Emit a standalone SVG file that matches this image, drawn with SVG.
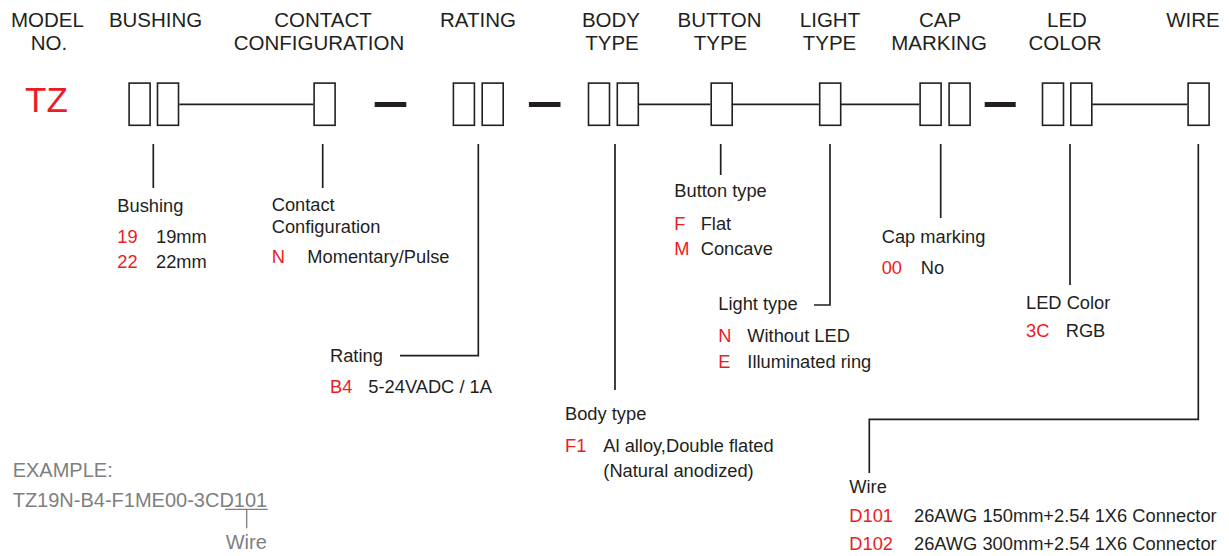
<svg xmlns="http://www.w3.org/2000/svg" width="1229" height="556" viewBox="0 0 1229 556">
<style>
text{font-family:"Liberation Sans",Arial,sans-serif;fill:#231f20}
.h{font-size:20.5px;text-anchor:middle}
.t{font-size:18.3px}
.r{fill:#ed1c24}
.g{fill:#7f7f7f;font-size:20px}
.box{fill:#fff;stroke:#231f20;stroke-width:1.6}
.ln{fill:none;stroke:#231f20;stroke-width:1.7}
.dash{fill:#231f20}
</style>
<rect width="1229" height="556" fill="#fff"/>
<g id="headers">
<text class="h" x="47.5" y="26.7">MODEL</text><text class="h" x="49" y="50">NO.</text>
<text class="h" x="155.6" y="26.7">BUSHING</text>
<text class="h" x="323" y="26.7">CONTACT</text><text class="h" x="319" y="50">CONFIGURATION</text>
<text class="h" x="478" y="26.7">RATING</text>
<text class="h" x="611" y="26.7">BODY</text><text class="h" x="612" y="50">TYPE</text>
<text class="h" x="719.5" y="26.7">BUTTON</text><text class="h" x="720.5" y="50">TYPE</text>
<text class="h" x="830" y="26.7">LIGHT</text><text class="h" x="829.5" y="50">TYPE</text>
<text class="h" x="940" y="26.7">CAP</text><text class="h" x="939" y="50">MARKING</text>
<text class="h" x="1067" y="26.7">LED</text><text class="h" x="1065" y="50">COLOR</text>
<text class="h" x="1193" y="26.7">WIRE</text>
</g>
<g id="model">
<text x="25" y="112" style="font-size:35px;fill:#ed1c24">TZ</text>
</g>
<g id="code-boxes">
<rect class="box" x="129.1" y="83.1" width="21" height="42.2"/>
<rect class="box" x="157.5" y="83.1" width="21" height="42.2"/>
<rect class="box" x="314.1" y="83.1" width="21" height="42.2"/>
<rect class="dash" x="374.7" y="102" width="31.6" height="5"/>
<rect class="box" x="453.4" y="83.1" width="21" height="42.2"/>
<rect class="box" x="482.2" y="83.1" width="21" height="42.2"/>
<rect class="dash" x="528.9" y="102" width="31.6" height="5"/>
<rect class="box" x="588.5" y="83.1" width="21" height="42.2"/>
<rect class="box" x="617.3" y="83.1" width="21" height="42.2"/>
<rect class="box" x="711.2" y="83.1" width="21" height="42.2"/>
<rect class="box" x="819.7" y="83.1" width="21" height="42.2"/>
<rect class="box" x="920.1" y="83.1" width="21" height="42.2"/>
<rect class="box" x="949.1" y="83.1" width="21" height="42.2"/>
<rect class="dash" x="984.7" y="102" width="31" height="5"/>
<rect class="box" x="1042.5" y="83.1" width="21" height="42.2"/>
<rect class="box" x="1070.8" y="83.1" width="21" height="42.2"/>
<rect class="box" x="1188.1" y="83.1" width="21" height="42.2"/>
</g>
<g id="connectors">
<path class="ln" d="M179.3 104.3H313.3M639 104.3H710.4M731.7 104.3H818.9M840.2 104.3H919.3M1092.3 104.3H1187.3"/>
<path class="ln" d="M153.3 144V188M322.7 144V188M478.3 144V355.7H400M615 144V390M720.7 144V175M830 144V305H814M940.7 144V218M1070 144V285M1198.3 144V419.3H869.3V473"/>
<path d="M225 509.3H267.7M246.7 509.3V528.3" fill="none" stroke="#7f7f7f" stroke-width="1.3"/>
</g>
<g id="bushing">
<text class="t" x="117.3" y="211.5">Bushing</text>
<text class="t r" x="117.3" y="243.3">19</text><text class="t" x="156" y="243.3">19mm</text>
<text class="t r" x="117.3" y="268">22</text><text class="t" x="156" y="268">22mm</text>
</g>
<g id="contact">
<text class="t" x="271.7" y="211">Contact</text>
<text class="t" x="271.7" y="232.7">Configuration</text>
<text class="t r" x="271.7" y="263.3">N</text><text class="t" x="307.3" y="263.3">Momentary/Pulse</text>
</g>
<g id="rating">
<text class="t" x="330" y="361.7">Rating</text>
<text class="t r" x="330" y="393.3">B4</text><text class="t" x="368.3" y="393.3">5-24VADC / 1A</text>
</g>
<g id="body">
<text class="t" x="565" y="420">Body type</text>
<text class="t r" x="565" y="451.7">F1</text><text class="t" x="603.3" y="451.7">Al alloy,Double flated</text>
<text class="t" x="603.3" y="476.7">(Natural anodized)</text>
</g>
<g id="button">
<text class="t" x="674.3" y="197.3">Button type</text>
<text class="t r" x="674.3" y="230">F</text><text class="t" x="700.7" y="230">Flat</text>
<text class="t r" x="674.3" y="255">M</text><text class="t" x="700.7" y="255">Concave</text>
</g>
<g id="light">
<text class="t" x="718.3" y="310">Light type</text>
<text class="t r" x="718.3" y="341.7">N</text><text class="t" x="747.3" y="341.7">Without LED</text>
<text class="t r" x="718.3" y="368.3">E</text><text class="t" x="747.3" y="368.3">Illuminated ring</text>
</g>
<g id="cap">
<text class="t" x="881.7" y="242.7">Cap marking</text>
<text class="t r" x="881.7" y="274">00</text><text class="t" x="920.7" y="274">No</text>
</g>
<g id="led">
<text class="t" x="1026" y="309.3">LED Color</text>
<text class="t r" x="1026" y="336.7">3C</text><text class="t" x="1065.7" y="336.7">RGB</text>
</g>
<g id="wire">
<text class="t" x="849.3" y="493.3">Wire</text>
<text class="t r" x="849.3" y="521.7">D101</text><text class="t" x="914" y="521.7">26AWG 150mm+2.54 1X6 Connector</text>
<text class="t r" x="849.3" y="550">D102</text><text class="t" x="914" y="550">26AWG 300mm+2.54 1X6 Connector</text>
</g>
<g id="example">
<text class="g" x="12.7" y="476.7">EXAMPLE:</text>
<text class="g" x="12.7" y="507.3">TZ19N-B4-F1ME00-3CD101</text>
<text class="g" x="246.3" y="549.3" text-anchor="middle">Wire</text>
</g>
</svg>
